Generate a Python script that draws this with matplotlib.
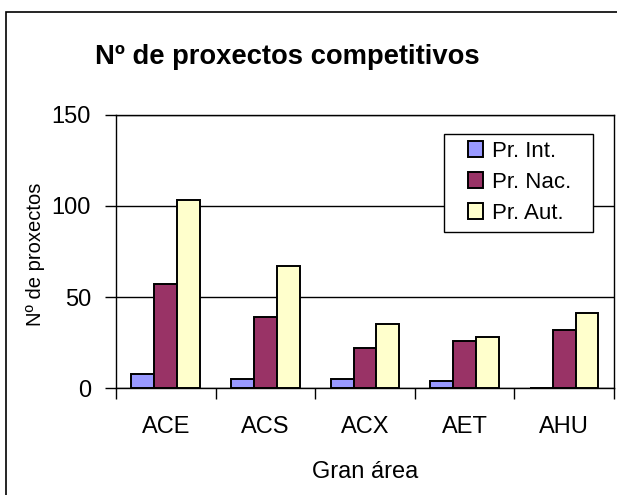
import numpy as np
import matplotlib.pyplot as plt
from matplotlib.patches import Rectangle

# Datos
areas = ['ACE', 'ACS', 'ACX', 'AET', 'AHU']
pr_int = [8, 5, 5, 4, 0]
pr_nac = [57, 39, 22, 26, 32]
pr_aut = [103, 67, 35, 28, 41]
series = ['Pr. Int.', 'Pr. Nac.', 'Pr. Aut.']
colores = ['#9999FF', '#993366', '#FFFFCC']

plt.rcParams['font.family'] = ['Liberation Sans', 'DejaVu Sans']

fig = plt.figure(figsize=(6.17, 4.95), dpi=100)
ax = fig.add_axes([0.188, 0.216, 0.807, 0.552])

# Marco exterior del gráfico
fig.patches.append(Rectangle((6 / 617, -0.2), 1.2, 1.2 - 12 / 495,
                             transform=fig.transFigure, fill=False,
                             edgecolor='black', linewidth=1.2))

x = np.arange(len(areas))
ancho = 0.23
for i, (vals, nombre, col) in enumerate(zip([pr_int, pr_nac, pr_aut], series, colores)):
    ax.bar(x + (i - 1) * ancho, vals, ancho, color=col, edgecolor='black',
           linewidth=1.4, label=nombre, zorder=3)

ax.set_xlim(-0.5, len(areas) - 0.5)
ax.set_ylim(0, 150)
ax.set_yticks([0, 50, 100, 150])
ax.yaxis.grid(True, color='black', linewidth=1.0, zorder=0)

# Marcas entre categorías, etiquetas centradas
ax.set_xticks(np.arange(len(areas) + 1) - 0.5)
ax.set_xticklabels([])
ax.set_xticks(x, minor=True)
ax.set_xticklabels(areas, minor=True)
ax.tick_params(axis='x', which='major', direction='out', length=8, width=1)
ax.tick_params(axis='x', which='minor', length=0, pad=20, labelsize=17)
ax.tick_params(axis='y', direction='out', length=8, width=1, labelsize=17, pad=10)

for s in ax.spines.values():
    s.set_linewidth(1.0)

ax.set_xlabel('Gran área', fontsize=17)
ax.xaxis.set_label_coords(0.5, -0.268)
ax.set_ylabel('Nº de proxectos', fontsize=14.5)
ax.yaxis.set_label_coords(-0.142, 0.49)
fig.text(0.465, 0.885, 'Nº de proxectos competitivos', ha='center', va='center',
         fontsize=19.7, fontweight='bold')

# Caja de la leyenda dibujada aparte
ax.add_patch(Rectangle((0.659, 0.571), 0.299, 0.359, transform=ax.transAxes,
                       facecolor='white', edgecolor='black', linewidth=1.0,
                       zorder=4))
leg = ax.legend(loc='upper left', bbox_to_anchor=(0.707, 0.905), borderaxespad=0,
                frameon=False, fontsize=16, handlelength=0.68, handleheight=0.68,
                handletextpad=0.4, labelspacing=0.45, borderpad=0)
leg.set_zorder(5)

fig.savefig('out.png', dpi=100)
